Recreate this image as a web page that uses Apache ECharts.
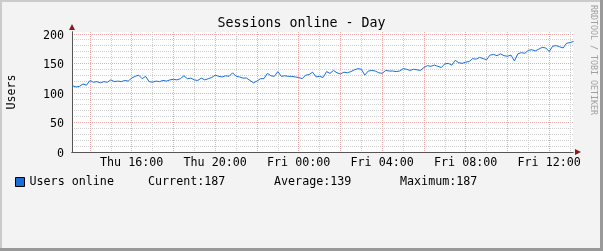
<!DOCTYPE html>
<html><head><meta charset="utf-8">
<script src="https://cdn.jsdelivr.net/npm/echarts@6/dist/echarts.min.js"></script>
<style>html,body{margin:0;padding:0;background:#f3f3f3;overflow:hidden}#c{width:603px;height:251px}</style>
</head><body><div id="c"></div><script>
// ---- data (hours since Thu 00:00; one sample every 10 minutes) ----
const startHour = 13 + 10 / 60;
const stepHour = 10 / 60;
const usersOnline = [
  112,110,111,115,113,121,118,119,117,119,118,122,119,120,119,121,120,125,128,130,
  124,128,119,118,120,119,121,120,122,123,122,124,129,124,125,122,121,125,122,124,
  126,130,128,127,129,128,134,128,127,125,125,121,117,120,124,124,133,129,128,136,
  128,129,128,128,127,126,124,130,131,135,127,128,126,136,133,138,134,132,135,134,
  136,139,141,140,130,137,138,137,134,133,138,137,137,136,137,141,140,138,140,139,
  138,143,146,145,147,145,143,149,150,147,155,151,150,152,153,158,157,160,158,156,
  164,165,163,166,163,162,164,154,166,168,167,172,173,171,174,177,176,170,179,180,
  178,176,184,185,187
];
const xMajorHours = [14,16,18,20,22,24,26,28,30,32,34,36];
const xMinorHours = [15,17,19,21,23,25,27,29,31,33,35,37];
const xLabelHours = [16,20,24,28,32,36];
const xTickLabels = ['Thu 16:00','Thu 20:00','Fri 00:00','Fri 04:00','Fri 08:00','Fri 12:00'];
const yMajor = [0,50,100,150,200];
const yMinor = [10,20,30,40,60,70,80,90,110,120,130,140,160,170,180,190];
const yTickLabels = ['0','50','100','150','200'];
const seriesName = 'Users online';
const legendStats = ['Current:187','Average:139','Maximum:187'];
const titleText = 'Sessions online - Day';
const yName = 'Users';
const creditText = 'RRDTOOL / TOBI OETIKER';

// ---- styles ----
const FONT = 'DejaVu Sans Mono';
const RED = '#efa9a9';
const GRAY = '#cfcfcf';
const ARROW = '#8b1a1a';
const AXIS = '#555555';
const LINE = '#1a6ed8';
const xMin = 13.14, xMax = 37.14, yMax = 203;

const chart = echarts.init(document.getElementById('c'), null, {renderer: 'canvas'});
const statX = [148, 274, 400];
chart.setOption({
  animation: false,
  backgroundColor: '#f3f3f3',
  title: {
    text: titleText, left: 'center', top: 12,
    textStyle: {fontFamily: FONT, fontSize: 13.3, fontWeight: 'normal', color: '#000'}
  },
  grid: {left: 72, top: 32, width: 501, height: 120, show: true, backgroundColor: '#ffffff', borderWidth: 0,
         containLabel: false, outerBoundsMode: 'none'},
  legend: {
    data: [seriesName], left: 15, top: 176, padding: 0, icon: 'rect', itemWidth: 9, itemHeight: 9,
    itemStyle: {color: LINE, borderColor: '#000', borderWidth: 1},
    textStyle: {fontFamily: FONT, fontSize: 11.7, color: '#000'}
  },
  xAxis: [
    {
      type: 'value', min: xMin, max: xMax, position: 'bottom',
      axisLine: {show: true, lineStyle: {color: ARROW, width: 1}, symbol: ['none', 'triangle'], symbolSize: [6, 6], symbolOffset: [0, 5]},
      axisTick: {show: false, customValues: xMinorHours},
      axisLabel: {show: false},
      splitLine: {show: true, lineStyle: {color: GRAY, width: 1, type: [1, 1]}}
    },
    {
      type: 'value', min: xMin, max: xMax, position: 'bottom',
      axisLine: {show: true, lineStyle: {color: AXIS, width: 1}},
      axisTick: {show: false, customValues: xMajorHours},
      axisLabel: {
        show: true, customValues: xLabelHours, margin: 5,
        fontFamily: FONT, fontSize: 11.7, color: '#000',
        formatter: v => xTickLabels[xLabelHours.indexOf(Math.round(v))] || ''
      },
      splitLine: {show: true, lineStyle: {color: RED, width: 1, type: [1, 1]}}
    }
  ],
  yAxis: [
    {
      type: 'value', min: 0, max: yMax, position: 'left',
      axisLine: {show: true, lineStyle: {color: ARROW, width: 1}, symbol: ['none', 'triangle'], symbolSize: [6, 6], symbolOffset: [0, 5]},
      axisTick: {show: false, customValues: yMinor},
      axisLabel: {show: false},
      splitLine: {show: true, lineStyle: {color: GRAY, width: 1, type: [1, 1]}}
    },
    {
      type: 'value', min: 0, max: yMax, position: 'left',
      name: yName, nameLocation: 'middle', nameGap: 54, nameRotate: 90,
      nameTextStyle: {fontFamily: FONT, fontSize: 11.7, color: '#000'},
      axisLine: {show: true, lineStyle: {color: AXIS, width: 1}},
      axisTick: {show: false, customValues: yMajor},
      axisLabel: {
        show: true, customValues: yMajor, margin: 8,
        fontFamily: FONT, fontSize: 11.7, color: '#000',
        formatter: v => '{a|' + (yTickLabels[yMajor.indexOf(Math.round(v))] || '') + '}',
        rich: {a: {fontFamily: FONT, fontSize: 11.7, color: '#000', padding: [4, 0, 0, 0]}}
      },
      splitLine: {show: true, lineStyle: {color: RED, width: 1, type: [1, 1]}}
    }
  ],
  series: [{
    name: seriesName, type: 'line', xAxisIndex: 1, yAxisIndex: 1,
    data: usersOnline.map((v, i) => [startHour + i * stepHour, v]),
    showSymbol: false, symbol: 'none', clip: true,
    lineStyle: {color: LINE, width: 1}, itemStyle: {color: LINE}, z: 5
  }],
  graphic: [
    {type: 'rect', shape: {x: 0, y: 0, width: 603, height: 2}, style: {fill: '#cbcbcb'}, silent: true},
    {type: 'rect', shape: {x: 0, y: 0, width: 2, height: 251}, style: {fill: '#cbcbcb'}, silent: true},
    {type: 'rect', shape: {x: 600, y: 0, width: 3, height: 251}, style: {fill: '#999999'}, silent: true},
    {type: 'rect', shape: {x: 0, y: 248, width: 603, height: 3}, style: {fill: '#999999'}, silent: true},
    ...legendStats.map((t, i) => ({
      type: 'text', x: statX[i], y: 181.5, silent: true,
      style: {text: t, font: '11.7px "' + FONT + '"', fill: '#000', verticalAlign: 'middle', align: 'left'}
    })),
    {
      type: 'text', x: 593, y: 60, rotation: -Math.PI / 2, silent: true,
      style: {text: creditText, font: '8.3px "' + FONT + '"', fill: '#a0a0a0', align: 'center', verticalAlign: 'middle'}
    }
  ]
});
</script></body></html>
